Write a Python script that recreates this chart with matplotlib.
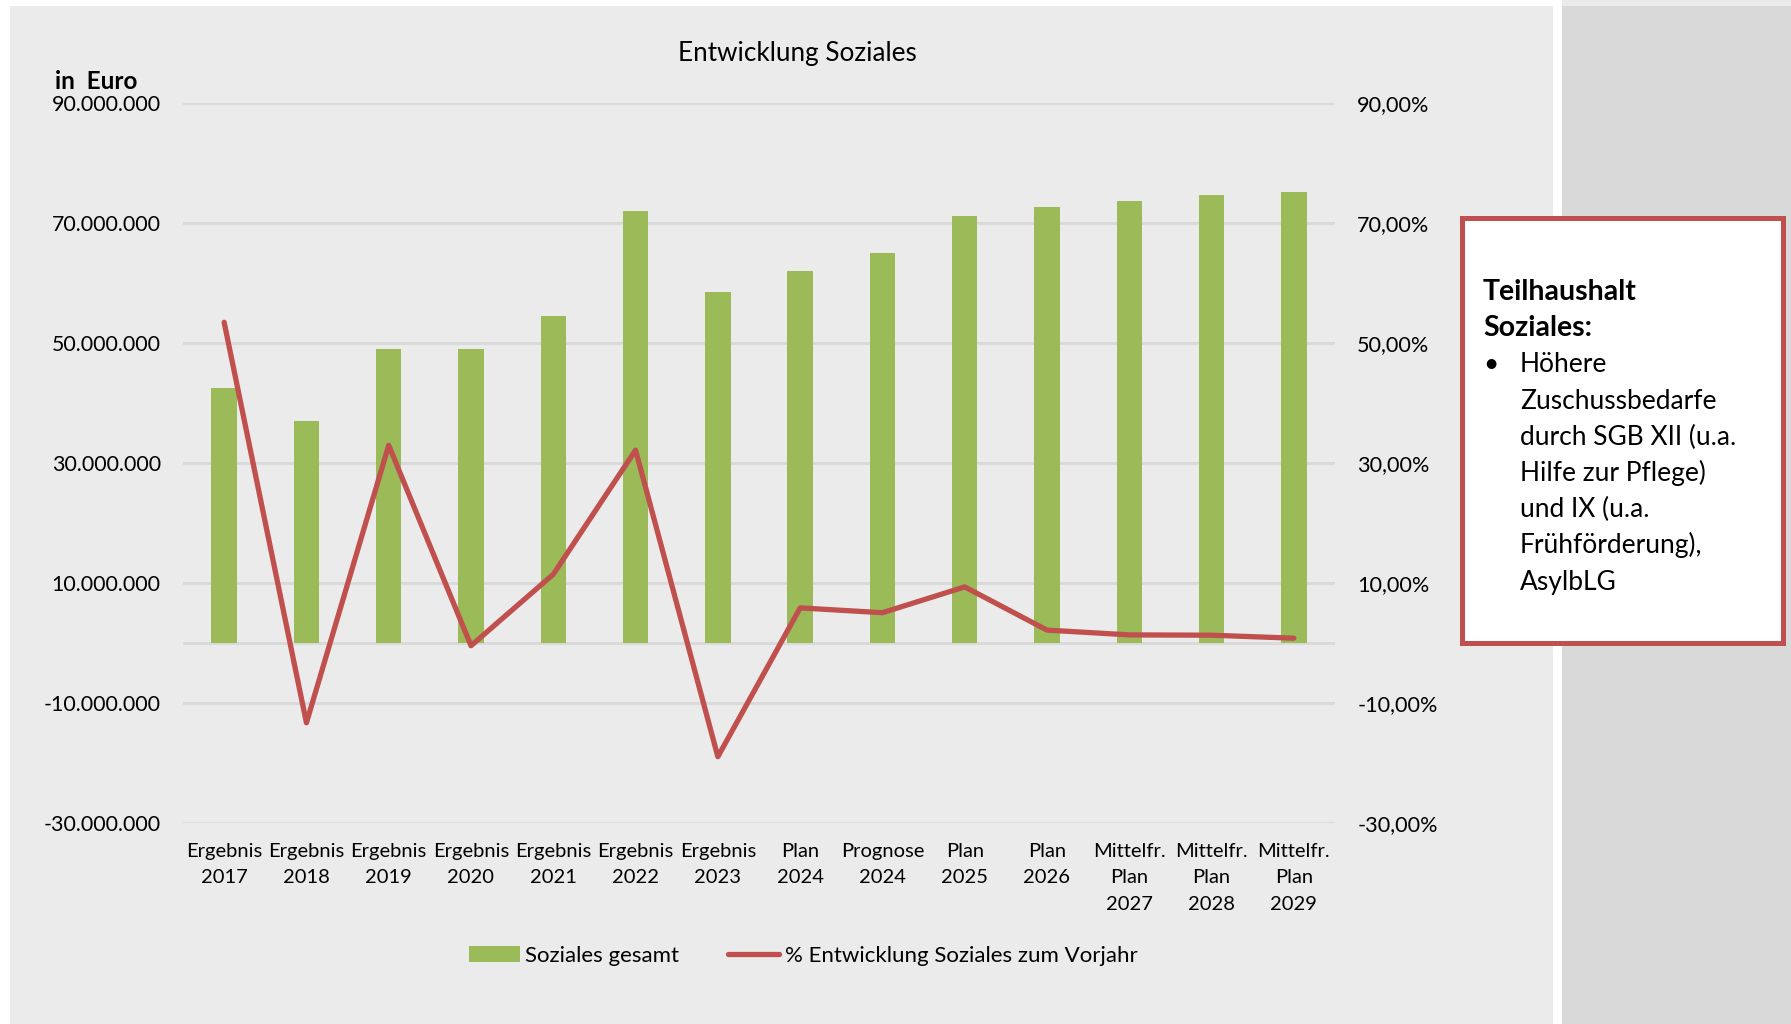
"""
Entwicklung Soziales: Balken (Zuschussbedarf in Euro) + Linie (% zum Vorjahr),
mit Infobox rechts daneben.
"""

import matplotlib

matplotlib.use("Agg")
import matplotlib.pyplot as plt
from matplotlib.patches import Rectangle, Patch
from matplotlib.lines import Line2D

plt.rcParams["font.family"] = ["Lato", "DejaVu Sans"]

# ------------------------------------------------------------------
# Daten
kategorien = [
    "Ergebnis\n2017", "Ergebnis\n2018", "Ergebnis\n2019", "Ergebnis\n2020",
    "Ergebnis\n2021", "Ergebnis\n2022", "Ergebnis\n2023", "Plan\n2024",
    "Prognose\n2024", "Plan\n2025", "Plan\n2026", "Mittelfr.\nPlan\n2027",
    "Mittelfr.\nPlan\n2028", "Mittelfr.\nPlan\n2029",
]
soziales_mio = [42.5, 36.9, 49.0, 49.0, 54.5, 72.0, 58.5,
                61.9, 65.0, 71.1, 72.7, 73.7, 74.6, 75.2]
entwicklung_pct = [53.4, -13.35, 32.9, -0.5, 11.4, 32.1, -19.0,
                   5.8, 5.0, 9.3, 2.1, 1.3, 1.25, 0.75]

links_ticks = [-30e6, -10e6, 10e6, 30e6, 50e6, 70e6, 90e6]
rechts_ticks = [-0.30, -0.10, 0.10, 0.30, 0.50, 0.70, 0.90]

box_titel = ["Teilhaushalt", "Soziales:"]
box_punkte = ["Höhere", "Zuschussbedarfe", "durch SGB XII (u.a.",
              "Hilfe zur Pflege)", "und IX (u.a.", "Frühförderung),", "AsylbLG"]

GRUEN = "#9BBB59"
ROT = "#C0504D"
HG = "#EBEBEB"
GRID = "#D9D9D9"

W, H = 1791, 1024


def fx(px):
    return px / W


def fy(py):
    return 1 - py / H


def euro(v):
    return f"{v:,.0f}".replace(",", ".")


def prozent(v):
    return f"{v * 100:.2f}%".replace(".", ",")


fig = plt.figure(figsize=(W / 100, H / 100), dpi=100)
fig.patch.set_facecolor("white")

# Hintergrundflaechen der Folie (hinter den Achsen)
for (x0, y0, x1, y1, c) in [(10, 6, 1553, H, HG), (1562, 6, W, H, "#D9D9D9"), (1562, 0, W, 6, HG)]:
    fig.patches.append(Rectangle((fx(x0), fy(y1)), fx(x1 - x0), (y1 - y0) / H,
                                 transform=fig.transFigure, facecolor=c,
                                 edgecolor="none", zorder=-5))

# ------------------------------------------------------------------
ax = fig.add_axes([fx(183), fy(822.7), fx(1335 - 183), (822.7 - 102.7) / H])
ax.set_facecolor("none")
x = list(range(len(kategorien)))
ax.bar(x, [v * 1e6 for v in soziales_mio], width=0.31, color=GRUEN, zorder=2)
ax.set_xlim(-0.5, len(kategorien) - 0.5)
ax.set_ylim(-30e6, 90e6)
ax.set_yticks(links_ticks)
ax.set_yticklabels([euro(v) for v in links_ticks])
ax.yaxis.grid(True, color=GRID, lw=2, zorder=0)
ax.set_axisbelow(True)
ax.axhline(0, color=GRID, lw=2, zorder=1)
ax.set_xticks(x)
ax.set_xticklabels(kategorien, fontsize=14.5, linespacing=1.68)
ax.tick_params(axis="y", length=0, pad=16, labelsize=15.4)
ax.tick_params(axis="x", length=0, pad=14.5)
for s in ax.spines.values():
    s.set_visible(False)

ax2 = ax.twinx()
ax2.plot(x, [p / 100 for p in entwicklung_pct], color=ROT, lw=3.8,
         solid_joinstyle="round", solid_capstyle="round", zorder=3)
ax2.set_ylim(-0.30, 0.90)
ax2.set_yticks(rechts_ticks)
ax2.set_yticklabels([prozent(v) for v in rechts_ticks])
ax2.tick_params(axis="y", length=0, pad=16, labelsize=15.6)
for s in ax2.spines.values():
    s.set_visible(False)

# Titel und Achsenbeschriftung
fig.text(fx(797), fy(53), "Entwicklung Soziales", ha="center", va="center", fontsize=18.8)
fig.text(fx(55), fy(89), "in  Euro", ha="left", va="baseline", fontsize=17.5, fontweight="bold")

# Legende
handles = [Patch(facecolor=GRUEN, edgecolor="none"),
           Line2D([0], [0], color=ROT, lw=3.8, solid_capstyle="round")]
fig.legend(handles, ["Soziales gesamt", "% Entwicklung Soziales zum Vorjahr"],
           loc="center", bbox_to_anchor=(fx(803), fy(956)), ncol=2, frameon=False,
           fontsize=16, handlelength=2.3, handletextpad=0.25, columnspacing=2.2)

# Infobox rechts
fig.patches.append(Rectangle((fx(1462), fy(643)), fx(1783 - 1462), (643 - 218) / H,
                             transform=fig.transFigure, facecolor="white",
                             edgecolor=ROT, lw=3.6, zorder=5))
y0, dy = 300, 36.2
for i, zeile in enumerate(box_titel):
    fig.text(fx(1483), fy(y0 + i * dy), zeile, ha="left", va="baseline",
             fontsize=20.5, fontweight="bold", zorder=6)
y1 = y0 + len(box_titel) * dy
fig.text(fx(1483), fy(y1), "•", ha="left", va="baseline", fontsize=19, zorder=6)
for i, zeile in enumerate(box_punkte):
    fig.text(fx(1520), fy(y1 + i * dy), zeile, ha="left", va="baseline",
             fontsize=19, zorder=6)

fig.savefig("out.png", dpi=100)
plt.close(fig)
